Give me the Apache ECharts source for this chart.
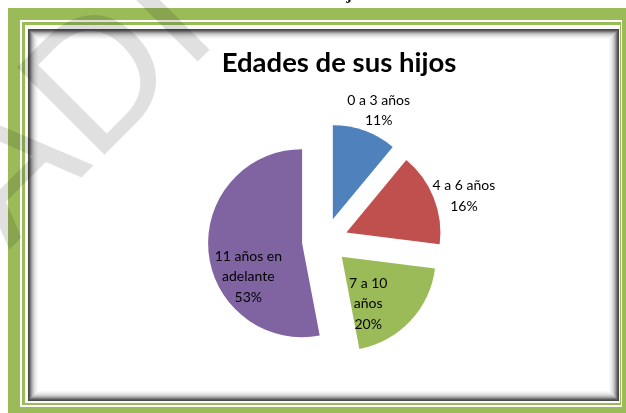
<!DOCTYPE html>
<html><head><meta charset="utf-8">
<script src="https://cdn.jsdelivr.net/npm/echarts@6/dist/echarts.min.js"></script>
<style>html,body{margin:0;padding:0;background:#fff}#c{width:626px;height:413px}</style>
</head><body><div id="c"></div>
<script>
// ---- data ----
const categories = ["0 a 3 años", "4 a 6 años", "7 a 10\naños", "11 años en\nadelante"];
const values = [11, 16, 20, 53];
const colors = ["#4F81BD", "#C0504D", "#9BBB59", "#8064A2"];
const titleText = "Edades de sus hijos";

// ---- presentation ----
const labelShift = [[29, -62], [71, -18], [-10, 13], [-4, 29]];
const green = "#9BBB59";
const graphics = [
  {type: 'rect', z: -30, silent: true, shape: {x: 8, y: 8, width: 700, height: 500}, style: {fill: green}},
  {type: 'rect', z: -29, silent: true, shape: {x: 20, y: 20, width: 602, height: 387}, style: {fill: '#fff'}},
  {type: 'rect', z: -28, silent: true, shape: {x: 22, y: 22, width: 599, height: 383}, style: {fill: green}},
  {type: 'rect', z: -27, silent: true, shape: {x: 25, y: 25, width: 595, height: 378}, style: {fill: '#fbfbfb'}}
];
const shades = ['#4a4a4a', '#5a5a5a', '#7a7a7a', '#9c9c9c', '#b8b8b8', '#cdcdcd', '#dddddd', '#e9e9e9', '#f2f2f2', '#f9f9f9', '#ffffff'];
shades.forEach((c, i) => {
  graphics.push({type: 'rect', z: -26 + i * 0.01, silent: true,
    shape: {x: 28 + i, y: 29 + i, width: 591 - 2 * i, height: 372 - 2 * i}, style: {fill: c}});
});
// cropped caption at very top
graphics.push({type: 'text', z: 5, silent: true, x: 297, y: 3,
  style: {text: titleText, font: 'bold 17px "Liberation Serif"', fill: '#111', align: 'center', verticalAlign: 'bottom'}});
// watermark
graphics.push({type: 'text', z: 50, silent: true, x: -26, y: 215, rotation: Math.PI / 4,
  style: {text: 'ADI', font: '180px "Liberation Sans"', fill: 'rgba(0,0,0,0.12)', align: 'left', verticalAlign: 'middle'}});

const chart = echarts.init(document.getElementById('c'));
chart.setOption({
  animation: false,
  backgroundColor: '#fff',
  title: {
    text: titleText, left: 334, top: 44, textAlign: 'center',
    textStyle: {fontFamily: 'Lato', fontWeight: 'bold', fontSize: 27.5, color: '#000'}
  },
  graphic: graphics,
  series: [{
    type: 'pie',
    center: [325, 241],
    radius: 94,
    startAngle: 90,
    clockwise: true,
    selectedMode: 'multiple',
    selectedOffset: 23,
    silent: true,
    avoidLabelOverlap: false,
    data: categories.map((n, i) => ({name: n, value: values[i], selected: true, itemStyle: {color: colors[i]}})),
    label: {
      show: true, position: 'inside', formatter: '{b}\n{d}%',
      fontFamily: 'Lato', fontSize: 14, color: '#000', lineHeight: 20.5, align: 'center'
    },
    labelLine: {show: false},
    labelLayout: p => ({dx: labelShift[p.dataIndex][0], dy: labelShift[p.dataIndex][1]}),
    emphasis: {disabled: true},
    select: {itemStyle: {borderWidth: 0}}
  }]
});
</script></body></html>
